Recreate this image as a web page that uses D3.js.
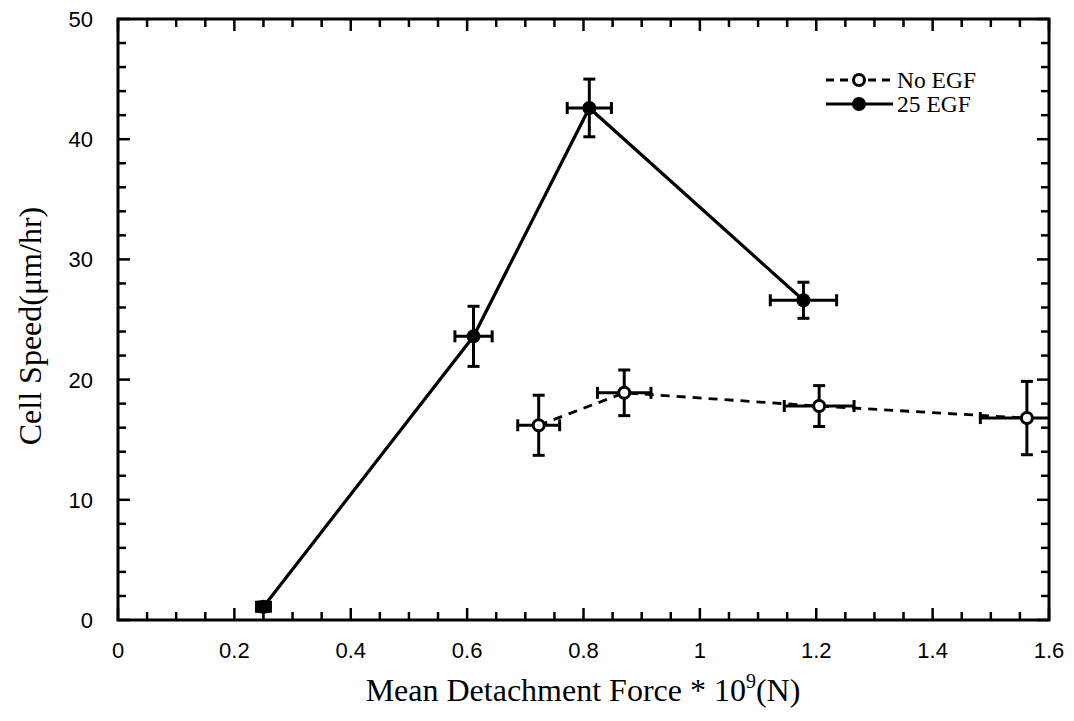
<!DOCTYPE html>
<html><head><meta charset="utf-8">
<script src="https://cdn.jsdelivr.net/npm/d3@7"></script>
<style>body{margin:0;background:#fff}</style>
</head><body>
<svg id="c" width="1074" height="721"></svg>
<script>
// Data
const egfX = [0.25, 0.611, 0.81, 1.178];
const egfY = [1.1, 23.6, 42.6, 26.6];
const egfXErr = [0.012, 0.032, 0.038, 0.057];
const egfYErr = [0.4, 2.5, 2.4, 1.5];

const noX = [0.723, 0.870, 1.205, 1.562];
const noY = [16.2, 18.9, 17.8, 16.8];
const noXErr = [0.036, 0.046, 0.06, 0.08];
const noYErr = [2.5, 1.9, 1.7, 3.05];

const xTicks = [0, 0.2, 0.4, 0.6, 0.8, 1, 1.2, 1.4, 1.6];
const yTicks = [0, 10, 20, 30, 40, 50];
const legendLabels = ["No EGF", "25 EGF"];

const svg = d3.select("#c");
const L = 118, R = 1049, T = 19, B = 620;
const x = d3.scaleLinear().domain([0, 1.6]).range([L, R]);
const y = d3.scaleLinear().domain([0, 50]).range([B, T]);

const sans = "'Liberation Sans', Arial, sans-serif";
const serif = "'Liberation Serif', 'Times New Roman', serif";

svg.append("defs").append("clipPath").attr("id", "clip")
  .append("rect").attr("x", L).attr("y", T).attr("width", R - L).attr("height", B - T);

// frame
svg.append("rect").attr("x", L).attr("y", T).attr("width", R - L).attr("height", B - T)
  .attr("fill", "none").attr("stroke", "#000").attr("stroke-width", 3);

// ticks
const xMinor = d3.range(0, 1.6001, 0.05);
const yMinor = d3.range(0, 50.001, 2);
function isMajorX(v){ return Math.abs(v*5 - Math.round(v*5)) < 1e-6; }
function isMajorY(v){ return Math.abs(v/10 - Math.round(v/10)) < 1e-6; }
const tk = svg.append("g").attr("stroke", "#000").attr("stroke-width", 2.5);
xMinor.forEach(v => {
  const len = isMajorX(v) ? 12 : 8;
  tk.append("line").attr("x1", x(v)).attr("x2", x(v)).attr("y1", B).attr("y2", B - len);
  tk.append("line").attr("x1", x(v)).attr("x2", x(v)).attr("y1", T).attr("y2", T + len);
});
yMinor.forEach(v => {
  const len = isMajorY(v) ? 12 : 8;
  tk.append("line").attr("y1", y(v)).attr("y2", y(v)).attr("x1", L).attr("x2", L + len);
  tk.append("line").attr("y1", y(v)).attr("y2", y(v)).attr("x1", R).attr("x2", R - len);
});

// tick labels
svg.append("g").selectAll("text").data(xTicks).join("text")
  .attr("x", d => x(d)).attr("y", 658).attr("text-anchor", "middle")
  .attr("font-family", sans).attr("font-size", 22).text(d => String(d));
svg.append("g").selectAll("text").data(yTicks).join("text")
  .attr("x", 93).attr("y", d => y(d) + 8).attr("text-anchor", "end")
  .attr("font-family", sans).attr("font-size", 22).text(d => String(d));

// axis titles
const xt = svg.append("text").attr("x", 583).attr("y", 701).attr("text-anchor", "middle")
  .attr("font-family", serif).attr("font-size", 32);
xt.append("tspan").text("Mean Detachment Force * 10");
xt.append("tspan").attr("dy", -13).attr("font-size", 20).text("9");
xt.append("tspan").attr("dy", 13).text("(N)");

svg.append("text").attr("transform", "translate(41,326) rotate(-90)").attr("text-anchor", "middle")
  .attr("font-family", serif).attr("font-size", 32).text("Cell Speed(\u03BCm/hr)");

// series
function drawSeries(xs, ys, xe, ye, dashed, filled) {
  const pts = xs.map((v, i) => [v, ys[i], xe[i], ye[i]]);
  const line = d3.line().x(d => x(d[0])).y(d => y(d[1]));
  const gs = svg.append("g").attr("clip-path", "url(#clip)");
  gs.append("path").datum(pts).attr("d", line).attr("fill", "none")
    .attr("stroke", "#000").attr("stroke-width", dashed ? 2.8 : 3.2)
    .attr("stroke-dasharray", dashed ? "9,7" : null);
  const g = gs.append("g").attr("stroke", "#000").attr("stroke-width", 3);
  const cap = 6;
  pts.forEach(d => {
    const cx = x(d[0]), cy = y(d[1]);
    const x0 = x(d[0] - d[2]), x1 = x(d[0] + d[2]);
    const y0 = y(d[1] - d[3]), y1 = y(d[1] + d[3]);
    g.append("line").attr("x1", x0).attr("x2", x1).attr("y1", cy).attr("y2", cy);
    g.append("line").attr("x1", x0).attr("x2", x0).attr("y1", cy - cap).attr("y2", cy + cap);
    g.append("line").attr("x1", x1).attr("x2", x1).attr("y1", cy - cap).attr("y2", cy + cap);
    g.append("line").attr("x1", cx).attr("x2", cx).attr("y1", y0).attr("y2", y1);
    g.append("line").attr("x1", cx - cap).attr("x2", cx + cap).attr("y1", y0).attr("y2", y0);
    g.append("line").attr("x1", cx - cap).attr("x2", cx + cap).attr("y1", y1).attr("y2", y1);
    if (filled) {
      gs.append("circle").attr("cx", cx).attr("cy", cy).attr("r", 7).attr("fill", "#000");
    } else {
      gs.append("circle").attr("cx", cx).attr("cy", cy).attr("r", 5.5).attr("fill", "#fff")
        .attr("stroke", "#000").attr("stroke-width", 3);
    }
  });
}
drawSeries(noX, noY, noXErr, noYErr, true, false);
drawSeries(egfX, egfY, egfXErr, egfYErr, false, true);

// legend
const lg = svg.append("g");
[[0, true, false], [1, false, true]].forEach(([i, dashed, filled]) => {
  const ly = 80 + i * 24;
  lg.append("line").attr("x1", 826).attr("x2", 893).attr("y1", ly).attr("y2", ly)
    .attr("stroke", "#000").attr("stroke-width", 3).attr("stroke-dasharray", dashed ? "8,6" : null);
  if (filled) lg.append("circle").attr("cx", 859).attr("cy", ly).attr("r", 7).attr("fill", "#000");
  else lg.append("circle").attr("cx", 859).attr("cy", ly).attr("r", 5.5).attr("fill", "#fff")
    .attr("stroke", "#000").attr("stroke-width", 3);
  lg.append("text").attr("x", 897).attr("y", ly + 8).attr("font-family", serif)
    .attr("font-size", 23.5).text(legendLabels[i]);
});
</script>
</body></html>
